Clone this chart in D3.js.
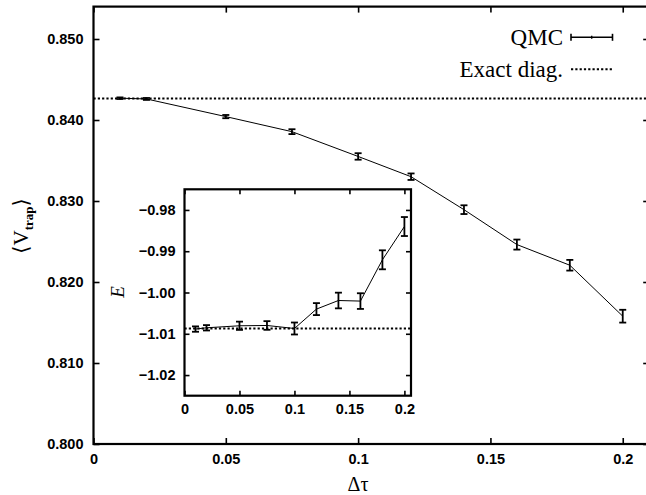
<!DOCTYPE html>
<html>
<head>
<meta charset="utf-8">
<script src="https://cdn.jsdelivr.net/npm/d3@7"></script>
<style>
  body { margin: 0; background: #fff; }
  svg { display: block; }
</style>
</head>
<body>
<svg id="chart"></svg>
<script>
const WIDTH = 646
const HEIGHT = 495

// time step values (shared by main plot and inset)
const dtau = [0.01, 0.02, 0.05, 0.075, 0.1, 0.12, 0.14, 0.16, 0.18, 0.2]
// <V_trap> from QMC with error bars
const vtrap = [0.84269, 0.84260, 0.84042, 0.83856, 0.83550, 0.83300, 0.82893, 0.82462, 0.82207, 0.81578]
const vtrapErr = [0.0001, 0.00012, 0.0002, 0.0003, 0.0004, 0.0004, 0.00054, 0.00062, 0.00066, 0.00079]
// energy (inset)
const energy = [-1.00886, -1.00855, -1.00806, -1.00799, -1.00872, -1.00402, -1.00194, -1.00208, -0.99208, -0.98402]
const energyErr = [0.00065, 0.00065, 0.001, 0.00105, 0.00145, 0.00145, 0.0019, 0.0019, 0.0023, 0.0023]
// exact diagonalisation results
const exactV = 0.84265
const exactE = -1.0087

const mainXTicks = [0, 0.05, 0.1, 0.15, 0.2]
const mainYTicks = [0.800, 0.810, 0.820, 0.830, 0.840, 0.850]
const insetXTicks = [0, 0.05, 0.1, 0.15, 0.2]
const insetYTicks = [-1.02, -1.01, -1.00, -0.99, -0.98]
const legendLabels = ['QMC', 'Exact diag.']

const TICK_FONT = '"Liberation Sans", Arial, sans-serif'
const SERIF = '"Liberation Serif", "DejaVu Serif", Times, serif'
const fmtX = d => d === 0 ? '0' : String(+d.toFixed(3))
const fmtInsetY = d => d3.format('.2f')(d).replace('-', '\u2212')

const svg = d3.select('#chart')
  .attr('width', WIDTH)
  .attr('height', HEIGHT)
  .attr('viewBox', [0, 0, WIDTH, HEIGHT])

svg.append('rect').attr('width', WIDTH).attr('height', HEIGHT).attr('fill', '#fff')

const mainPts = dtau.map((t, i) => ({ x: t, y: vtrap[i], e: vtrapErr[i] }))
const insetPts = dtau.map((t, i) => ({ x: t, y: energy[i], e: energyErr[i] }))

// draws a framed panel with inward ticks on all four sides
function drawFrame(g, x, y, xTicks, yTicks, xFmt, yFmt, opts) {
  const [x0, x1] = x.range()
  const [y0, y1] = y.range()

  g.append('rect')
    .attr('x', x0).attr('y', y1)
    .attr('width', x1 - x0).attr('height', y0 - y1)
    .attr('fill', opts.fill || 'none')

  const styleAxis = a => a
    .call(s => s.select('.domain').remove())
    .call(s => s.selectAll('line').attr('stroke', '#000').attr('stroke-width', 1.6))
    .call(s => s.selectAll('text')
      .attr('fill', '#000')
      .style('font-family', TICK_FONT)
      .style('font-weight', 'bold')
      .style('font-size', opts.fontSize + 'px'))

  g.append('g')
    .attr('transform', `translate(0,${y0})`)
    .call(d3.axisBottom(x).tickValues(xTicks).tickFormat(xFmt)
      .tickSizeInner(-opts.tick).tickSizeOuter(0).tickPadding(opts.xPad))
    .call(styleAxis)
  g.append('g')
    .attr('transform', `translate(0,${y1})`)
    .call(d3.axisTop(x).tickValues(xTicks).tickFormat('')
      .tickSizeInner(-opts.tick).tickSizeOuter(0))
    .call(styleAxis)
  g.append('g')
    .attr('transform', `translate(${x0},0)`)
    .call(d3.axisLeft(y).tickValues(yTicks).tickFormat(yFmt)
      .tickSizeInner(-opts.tick).tickSizeOuter(0).tickPadding(opts.yPad))
    .call(styleAxis)
  g.append('g')
    .attr('transform', `translate(${x1},0)`)
    .call(d3.axisRight(y).tickValues(yTicks).tickFormat('')
      .tickSizeInner(-opts.tick).tickSizeOuter(0))
    .call(styleAxis)

  g.append('rect')
    .attr('x', x0).attr('y', y1)
    .attr('width', x1 - x0).attr('height', y0 - y1)
    .attr('fill', 'none')
    .attr('stroke', '#000')
    .attr('stroke-width', 2.2)
}

function drawSeries(g, pts, x, y, cap) {
  g.append('path')
    .datum(pts)
    .attr('fill', 'none')
    .attr('stroke', '#000')
    .attr('stroke-width', 1)
    .attr('d', d3.line().x(d => x(d.x)).y(d => y(d.y)))

  const bars = g.append('g')
    .attr('stroke', '#000')
    .attr('stroke-width', 1.8)
    .selectAll('g')
    .data(pts)
    .join('g')
  bars.append('line')
    .attr('x1', d => x(d.x)).attr('x2', d => x(d.x))
    .attr('y1', d => y(d.y - d.e)).attr('y2', d => y(d.y + d.e))
  bars.append('line')
    .attr('x1', d => x(d.x) - cap).attr('x2', d => x(d.x) + cap)
    .attr('y1', d => y(d.y - d.e)).attr('y2', d => y(d.y - d.e))
  bars.append('line')
    .attr('x1', d => x(d.x) - cap).attr('x2', d => x(d.x) + cap)
    .attr('y1', d => y(d.y + d.e)).attr('y2', d => y(d.y + d.e))
}

function drawExact(g, value, x, y) {
  g.append('line')
    .attr('x1', x.range()[0]).attr('x2', x.range()[1])
    .attr('y1', y(value)).attr('y2', y(value))
    .attr('stroke', '#000')
    .attr('stroke-width', 2)
    .attr('stroke-dasharray', '2.2,2.1')
}

// ---- main panel
const x = d3.scaleLinear().domain([0, 0.21]).range([93.5, 649.2])
const y = d3.scaleLinear().domain([0.800, 0.854]).range([444, 6.6])

const main = svg.append('g')
drawFrame(main, x, y, mainXTicks, mainYTicks, fmtX, d3.format('.3f'),
  { tick: 6, fontSize: 14.5, xPad: 10, yPad: 10 })
drawExact(main, exactV, x, y)
drawSeries(main, mainPts, x, y, 3.5)

main.append('text')
  .attr('x', 358).attr('y', 491)
  .attr('text-anchor', 'middle')
  .style('font-family', SERIF)
  .style('font-size', '20px')
  .text('\u0394\u03c4')

const ylab = main.append('text')
  .attr('transform', 'translate(28,226) rotate(-90)')
  .attr('text-anchor', 'middle')
  .style('font-family', SERIF)
  .style('font-size', '21px')
ylab.append('tspan').text('\u27e8V')
ylab.append('tspan').attr('dy', 5).style('font-size', '13px').style('font-weight', 'bold').text('trap')
ylab.append('tspan').attr('dy', -5).text('\u27e9')

// legend
const legend = main.append('g')
  .style('font-family', SERIF)
  .style('font-size', '23px')
legend.selectAll('text')
  .data(legendLabels)
  .join('text')
  .attr('x', 563)
  .attr('y', (d, i) => 45 + i * 32)
  .attr('text-anchor', 'end')
  .text(d => d)
const ly = [37.3, 69.3]
legend.append('line')
  .attr('x1', 571).attr('x2', 612.5).attr('y1', ly[0]).attr('y2', ly[0])
  .attr('stroke', '#000').attr('stroke-width', 1.4)
legend.selectAll('line.cap')
  .data([571, 612.5])
  .join('line')
  .attr('class', 'cap')
  .attr('x1', d => d).attr('x2', d => d)
  .attr('y1', ly[0] - 3.5).attr('y2', ly[0] + 3.5)
  .attr('stroke', '#000').attr('stroke-width', 1.6)
legend.append('line')
  .attr('x1', 591.7).attr('x2', 591.7).attr('y1', ly[0] - 1.5).attr('y2', ly[0] + 1.5)
  .attr('stroke', '#000').attr('stroke-width', 1.4)
legend.append('line')
  .attr('x1', 571).attr('x2', 612).attr('y1', ly[1]).attr('y2', ly[1])
  .attr('stroke', '#000').attr('stroke-width', 2)
  .attr('stroke-dasharray', '2.2,2.1')

// ---- inset panel
const xi = d3.scaleLinear().domain([0, 0.206]).range([184.5, 411])
const yi = d3.scaleLinear().domain([-1.025, -0.975]).range([395.7, 189.3])

const inset = svg.append('g')
drawFrame(inset, xi, yi, insetXTicks, insetYTicks, fmtX, fmtInsetY,
  { tick: 5, fontSize: 14.5, xPad: 8, yPad: 9, fill: '#fff' })
drawExact(inset, exactE, xi, yi)
drawSeries(inset, insetPts, xi, yi, 3.5)

inset.append('text')
  .attr('transform', 'translate(124,292) rotate(-90)')
  .attr('text-anchor', 'middle')
  .style('font-family', SERIF)
  .style('font-style', 'italic')
  .style('font-size', '19px')
  .text('E')
</script>
</body>
</html>
